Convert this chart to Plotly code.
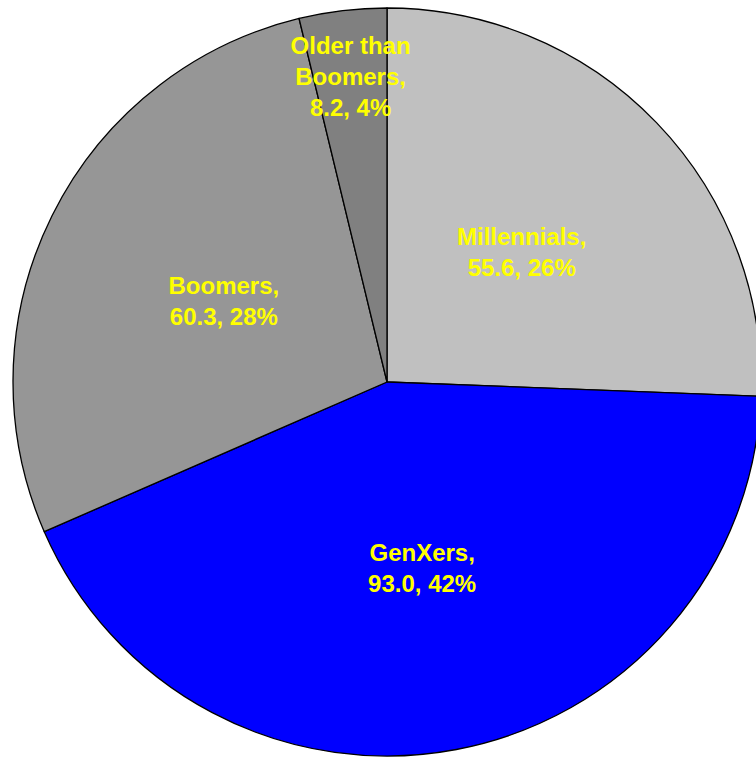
import plotly.graph_objects as go

labels = ["Millennials", "GenXers", "Boomers", "Older than<br>Boomers"]
values = [55.6, 93.0, 60.3, 8.2]
pct_labels = ["26%", "42%", "28%", "4%"]
colors = ["#C0C0C0", "#0000FF", "#969696", "#808080"]

texts = [f"{l},<br>{v:.1f}, {p}" for l, v, p in zip(labels, values, pct_labels)]

W, H = 770, 758
cx, cy, R = 387, 382, 374
# label placement radius (fraction of pie radius) per slice
label_r = [0.86, 1.0, 0.86, 0.92]


def dom(r):
    return dict(x=[(cx - r) / W, (cx + r) / W], y=[(H - cy - r) / H, (H - cy + r) / H])


font = dict(family="Liberation Sans, Arial, sans-serif", size=24, color="#FFFF00", weight="bold")

fig = go.Figure()
fig.add_trace(go.Pie(
    labels=labels,
    values=values,
    textinfo="none",
    hoverinfo="label+value+percent",
    sort=False,
    direction="clockwise",
    rotation=0,
    marker=dict(colors=colors, line=dict(color="black", width=1.3)),
    domain=dom(R),
    showlegend=False,
))
for f in sorted(set(label_r)):
    t = [tx if lr == f else "" for tx, lr in zip(texts, label_r)]
    fig.add_trace(go.Pie(
        labels=labels,
        values=values,
        text=t,
        textinfo="text",
        hoverinfo="skip",
        sort=False,
        direction="clockwise",
        rotation=0,
        marker=dict(colors=["rgba(0,0,0,0)"] * 4, line=dict(width=0)),
        textposition="inside",
        insidetextorientation="horizontal",
        textfont=font,
        domain=dom(R * f),
        showlegend=False,
    ))
fig.update_layout(
    width=W, height=H,
    margin=dict(l=0, r=0, t=0, b=0),
    paper_bgcolor="white",
    uniformtext=dict(minsize=24, mode="show"),
)
fig.write_html("out.html", config={"displayModeBar": False},
               post_script="document.body.style.margin='0';document.body.style.overflow='hidden';document.documentElement.style.overflow='hidden';")
